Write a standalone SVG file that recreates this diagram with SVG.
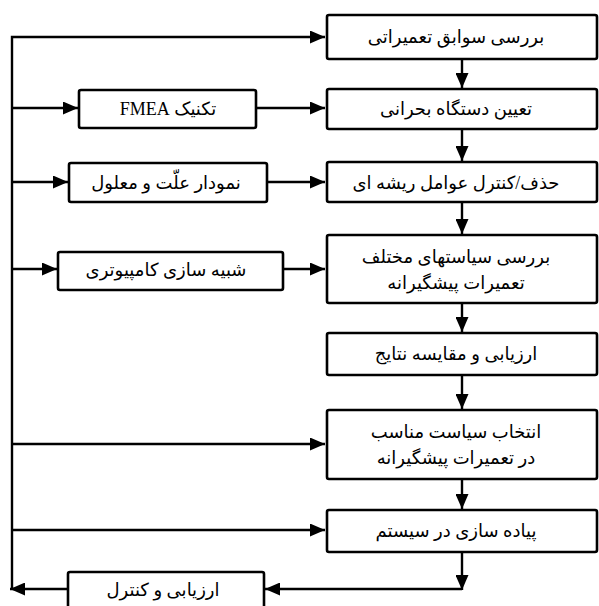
<svg xmlns="http://www.w3.org/2000/svg" width="599" height="606" viewBox="0 0 599 606">
<style>
.box{fill:#fff;stroke:#000;stroke-width:2.6}
.ln{fill:none;stroke:#000;stroke-width:2.4}
.t{font-family:"Liberation Serif","DejaVu Sans",serif;font-size:18px;fill:#000;text-anchor:middle}
</style>
<defs>
<marker id="ah" viewBox="0 0 15 13" refX="15" refY="6.5" markerWidth="15" markerHeight="13" markerUnits="userSpaceOnUse" orient="auto">
<path d="M0,0 L15,6.5 L0,13 z" fill="#000"/>
</marker>
</defs>
<g id="connectors">
<path class="ln" d="M12,589 V37 H325" marker-end="url(#ah)"/>
<path class="ln" d="M12,108 H78" marker-end="url(#ah)"/>
<path class="ln" d="M12,182 H68" marker-end="url(#ah)"/>
<path class="ln" d="M12,269 H57" marker-end="url(#ah)"/>
<path class="ln" d="M12,444 H325" marker-end="url(#ah)"/>
<path class="ln" d="M12,530 H325" marker-end="url(#ah)"/>
<path class="ln" d="M256,108 H325" marker-end="url(#ah)"/>
<path class="ln" d="M267,182 H325" marker-end="url(#ah)"/>
<path class="ln" d="M283,269 H325" marker-end="url(#ah)"/>
<path class="ln" d="M462,59 V88" marker-end="url(#ah)"/>
<path class="ln" d="M462,129 V161" marker-end="url(#ah)"/>
<path class="ln" d="M462,202 V234" marker-end="url(#ah)"/>
<path class="ln" d="M462,303 V332" marker-end="url(#ah)"/>
<path class="ln" d="M462,375 V409" marker-end="url(#ah)"/>
<path class="ln" d="M462,479 V509" marker-end="url(#ah)"/>
<path class="ln" d="M462,552 V590" marker-end="url(#ah)"/>
<path class="ln" d="M462,589 H265" marker-end="url(#ah)"/>
<path class="ln" d="M68,589 H10" marker-end="url(#ah)"/>
</g>
<g id="n1"><rect class="box" x="327" y="15" width="270" height="44" rx="2"/><text class="t" direction="rtl" x="456" y="43">بررسی سوابق تعمیراتی</text></g>
<g id="n2"><rect class="box" x="327" y="89" width="270" height="40" rx="2"/><text class="t" direction="rtl" x="456" y="115">تعیین دستگاه بحرانی</text></g>
<g id="n3"><rect class="box" x="327" y="162" width="270" height="40" rx="2"/><text class="t" direction="rtl" x="456" y="189">حذف/کنترل عوامل ریشه ای</text></g>
<g id="n4"><rect class="box" x="327" y="235" width="270" height="68" rx="2"/><text class="t" direction="rtl" x="456" y="263">بررسی سیاستهای مختلف</text><text class="t" direction="rtl" x="456" y="289">تعمیرات پیشگیرانه</text></g>
<g id="n5"><rect class="box" x="327" y="333" width="270" height="42" rx="2"/><text class="t" direction="rtl" x="456" y="360">ارزیابی و مقایسه نتایج</text></g>
<g id="n6"><rect class="box" x="327" y="410" width="270" height="69" rx="2"/><text class="t" direction="rtl" x="456" y="438">انتخاب سیاست مناسب</text><text class="t" direction="rtl" x="456" y="464">در تعمیرات پیشگیرانه</text></g>
<g id="n7"><rect class="box" x="327" y="510" width="270" height="42" rx="2"/><text class="t" direction="rtl" x="456" y="537">پیاده سازی در سیستم</text></g>
<g id="fmea"><rect class="box" x="79" y="90" width="177" height="38" rx="2"/><text class="t" direction="rtl" x="168" y="115">تکنیک FMEA</text></g>
<g id="cause"><rect class="box" x="69" y="163" width="198" height="39" rx="2"/><text class="t" direction="rtl" x="166" y="189">نمودار علّت و معلول</text></g>
<g id="sim"><rect class="box" x="58" y="252" width="225" height="38" rx="2"/><text class="t" direction="rtl" x="166" y="276">شبیه سازی کامپیوتری</text></g>
<g id="eval"><rect class="box" x="68" y="572" width="196" height="40" rx="2"/><text class="t" direction="rtl" x="163" y="596">ارزیابی و کنترل</text></g>
</svg>
